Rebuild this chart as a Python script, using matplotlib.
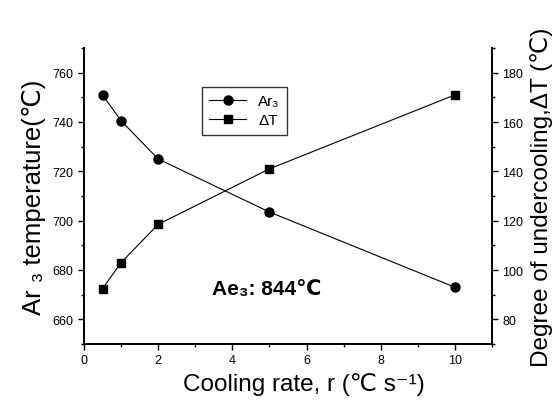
import numpy as np
import matplotlib
matplotlib.use("Agg")
import matplotlib.pyplot as plt
from matplotlib.ticker import MultipleLocator, FuncFormatter

plt.rcParams['font.family'] = ['Liberation Sans', 'DejaVu Sans']

# data
rate = [0.5, 1, 2, 5, 10]
ar3 = [751, 740.5, 725, 703.5, 673]
dT = [92.5, 103, 118.5, 141, 171]

fig = plt.figure(figsize=(5.59, 4.10), dpi=100)
ax = fig.add_axes([84 / 559, 65 / 410, 408 / 559, 296 / 410])
ax2 = ax.twinx()

l1, = ax.plot(rate, ar3, '-o', color='black', lw=0.8, ms=6.5, label='Ar₃')
l2, = ax2.plot(rate, dT, '-s', color='black', lw=0.8, ms=6, label='ΔT')

ax.set_xlim(0, 11)
ax.set_ylim(650, 770)
ax2.set_ylim(70, 190)

ax.xaxis.set_major_locator(MultipleLocator(2))
ax.xaxis.set_minor_locator(MultipleLocator(1))
ax.yaxis.set_major_locator(MultipleLocator(20))
ax.yaxis.set_minor_locator(MultipleLocator(10))
ax2.yaxis.set_major_locator(MultipleLocator(20))
ax2.yaxis.set_minor_locator(MultipleLocator(10))

for a in (ax, ax2):
    a.spines['top'].set_visible(False)
    a.tick_params(which='major', direction='out', length=4, width=1, labelsize=9)
    a.tick_params(which='minor', direction='out', length=2.5, width=1)
    for s in a.spines.values():
        s.set_linewidth(1.3)
ax.yaxis.set_major_formatter(FuncFormatter(lambda v, p: '' if v == 650 else f'{v:.0f}'))
ax2.yaxis.set_major_formatter(FuncFormatter(lambda v, p: '' if v == 70 else f'{v:.0f}'))

ax.set_xlabel('Cooling rate, r (℃ s⁻¹)', fontsize=17.5)
ax.xaxis.set_label_coords(0.54, -0.095)
ax.set_ylabel('Ar ₃ temperature(℃)', fontsize=18.5, labelpad=5)
ax2.set_ylabel('Degree of undercooling,ΔT (℃)', fontsize=17.5, labelpad=5)

leg = ax.legend(handles=[l1, l2], loc='upper left', bbox_to_anchor=(0.27, 0.895),
                fontsize=11, frameon=True, fancybox=False, edgecolor='black',
                handlelength=2.4, borderpad=0.5, labelspacing=0.3)
leg.get_frame().set_linewidth(1.0)

ax.text(3.45, 672.6, 'Ae₃: 844℃', fontsize=15, fontweight='bold', ha='left', va='center')

fig.savefig('out.png', dpi=100)
